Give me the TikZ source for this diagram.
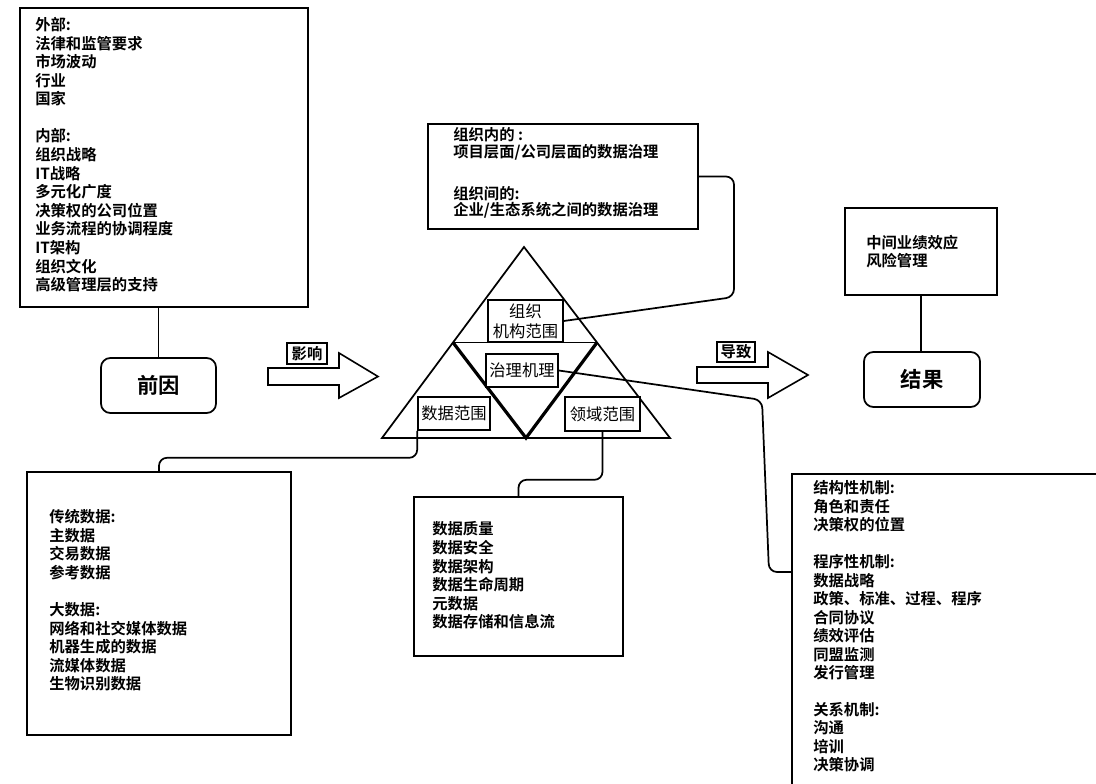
\documentclass[tikz,border=0pt]{standalone}
\usepackage{fontspec}
\newfontfamily\cjk{Noto Sans CJK SC}[BoldFont={Noto Sans CJK SC Bold}]
\begin{document}
\begin{tikzpicture}[x=0.75pt,y=-0.75pt,
  panel/.style={draw, line width=1.3pt, inner sep=0pt},
  bigbox/.style={draw, rounded corners=7pt, line width=1.3pt, inner sep=0pt,
    font=\cjk\bfseries\fontsize{16}{18}\selectfont},
  % multi-line lists are placed by the baseline of their last line
  listtext/.style={anchor=base west, align=left, inner sep=0pt,
    font=\cjk\bfseries\fontsize{11.5}{13.95}\selectfont},
  tag/.style={draw, fill=white, line width=1.2pt, inner sep=0pt, align=center,
    font=\cjk\fontsize{12.2}{15}\selectfont},
  flowtag/.style={draw, fill=white, line width=1.2pt, inner sep=0pt,
    font=\cjk\bfseries\fontsize{11.5}{13}\selectfont},
  link/.style={line width=1.3pt, rounded corners=6pt},
  blockarrow/.style={draw, line width=1.2pt, fill=white, line join=miter}]
\useasboundingbox (0,0) rectangle (1096,784);

% antecedents
\node[panel, minimum width=216pt, minimum height=224.25pt] (ante) at (164,157.5) {};
\node[listtext] (antetext) at (35,290.8) {外部:\\法律和监管要求\\市场波动\\行业\\国家\\[13.95pt]内部:\\组织战略\\IT战略\\多元化广度\\决策权的公司位置\\业务流程的协调程度\\IT架构\\组织文化\\高级管理层的支持};
\node[bigbox, minimum width=86.25pt, minimum height=41.25pt] (cause) at (158.5,385.5) {前因};
\draw[link] (ante.south -| cause.north) -- (cause.north);

% influence arrow
\draw[blockarrow] (268,368) -- (339,368) -- (339,353) -- (378,376.5) -- (339,398) -- (339,385) -- (268,385) -- cycle;
\node[flowtag, minimum width=30pt, minimum height=15.75pt] (influence) at (307,353.5) {影响};

% governance triangle
\draw[line width=1.3pt, line join=miter] (524,247) -- (670,438) -- (382,438) -- cycle;
\draw[line width=1.3pt] (453,342.5) -- (597,342.5);
\draw[line width=2.4pt, line join=miter] (453,342.5) -- (526,438) -- (597,342.5);
\node[tag, minimum width=56.25pt, minimum height=31.5pt] (org) at (525.5,321) {组织\\机构范围};
\node[tag, minimum width=54pt, minimum height=24.75pt] (gov) at (522,370.5) {治理机理};
\node[tag, minimum width=54pt, minimum height=24.75pt] (data) at (454,413.5) {数据范围};
\node[tag, minimum width=56.25pt, minimum height=25.5pt] (domain) at (602.5,414) {领域范围};

% organisational scope
\node[panel, minimum width=202.5pt, minimum height=78.75pt] (scope) at (563,176.5) {};
\node[listtext, font=\cjk\bfseries\fontsize{11.5}{12.4}\selectfont] (scopetext) at (453,215.8) {组织内的 :\\项目层面/公司层面的数据治理\\[18.9pt]组织间的:\\企业/生态系统之间的数据治理};
\draw[link] (scope.east) -- (734,176.5) -- (734,297) -- (org.east);

% lead arrow
\draw[blockarrow] (697,367) -- (768,367) -- (768,352) -- (808,375) -- (768,398) -- (768,383) -- (697,383) -- cycle;
\node[flowtag, minimum width=28.5pt, minimum height=15pt] (lead) at (736,352) {导致};

% outcomes
\node[panel, minimum width=114pt, minimum height=65.25pt] (interm) at (921,251.5) {};
\node[listtext, font=\cjk\bfseries\fontsize{11.5}{13.5}\selectfont] (intermtext) at (866,266.8) {中间业绩效应\\风险管理};
\node[bigbox, minimum width=87pt, minimum height=41.25pt] (result) at (922,379.5) {结果};
\draw[link] (interm.south) -- (interm.south |- result.north);

% data scope details
\node[panel, minimum width=198pt, minimum height=197.25pt] (dlist) at (159,603.5) {};
\node[listtext] (dlisttext) at (49,689.8) {传统数据:\\主数据\\交易数据\\参考数据\\[13.9pt]大数据:\\网络和社交媒体数据\\机器生成的数据\\流媒体数据\\生物识别数据};
\draw[link] (data.south west) -- ++(0,27) -| (dlist.north);

% domain scope details
\node[panel, minimum width=156.75pt, minimum height=119.25pt] (domlist) at (518.5,576.5) {};
\node[listtext] (domlisttext) at (432,627.8) {数据质量\\数据安全\\数据架构\\数据生命周期\\元数据\\数据存储和信息流};
\draw[link] (domain.south) -- ++(0,48) -| (domlist.north);

% governance mechanisms
\begin{scope}
\clip (0,0) rectangle (1096,784);
\node[panel, minimum width=246pt, minimum height=244.5pt] (mech) at (956,637) {};
\end{scope}
\node[listtext, font=\cjk\bfseries\fontsize{11.5}{13.85}\selectfont] (mechtext) at (813,770.8) {结构性机制:\\角色和责任\\决策权的位置\\[13.85pt]程序性机制:\\数据战略\\政策、标准、过程、程序\\合同协议\\绩效评估\\同盟监测\\发行管理\\[13.85pt]关系机制:\\沟通\\培训\\决策协调};
\coordinate (bend) at (769,572);
\draw[link] (gov.east) -- (762,400) -- (bend) -- (bend -| mech.west);
\end{tikzpicture}
\end{document}
